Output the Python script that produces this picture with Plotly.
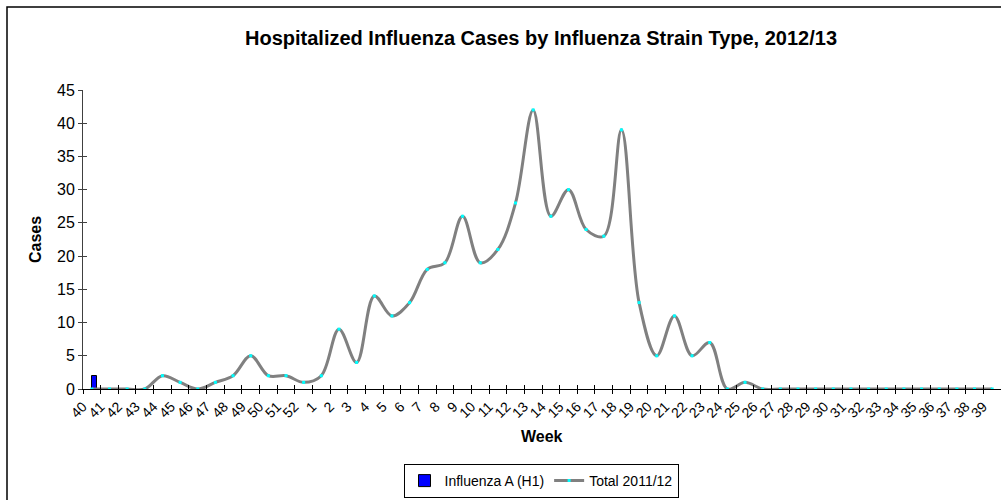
import plotly.graph_objects as go

weeks = [str(w) for w in list(range(40, 53)) + list(range(1, 40))]

total_2011_12 = [0, 0, 0, 0, 2, 1, 0, 1, 2, 5, 2, 2, 1,
                 2, 9, 4, 14, 11, 13, 18, 19, 26, 19, 21, 28, 42, 26, 30, 24, 23, 39,
                 13, 5, 11, 5, 7, 0, 1, 0,
                 0, 0, 0, 0, 0, 0, 0, 0, 0, 0, 0, 0, 0]

h1_weeks = ["40"]
h1_values = [2]

y_ticks = list(range(0, 50, 5))

FONT = "Liberation Sans, Arial, sans-serif"

W, H = 1001, 500
L, R, T, B = 83, 0, 90, 111
pw, ph = W - L - R, H - T - B


def px_x(px):
    return (px - L) / pw


def px_y(py):
    return (H - B - py) / ph


n = len(weeks)
boundaries = [i - 0.5 for i in range(n + 1)]

fig = go.Figure()
fig.add_trace(go.Bar(
    x=h1_weeks, y=h1_values, name="Influenza A (H1)",
    marker=dict(color="#0000FF", line=dict(color="#000000", width=1)),
    width=0.28, offset=0,
))
fig.add_trace(go.Scatter(
    x=weeks, y=total_2011_12, name="Total 2011/12",
    mode="lines+markers",
    line=dict(color="#808080", width=3, shape="spline", smoothing=1),
    marker=dict(color="#00FFFF", size=3, symbol="square", line=dict(width=0)),
))
# helper trace so the overlaid tick-only axes (inner half of the crossing ticks) render
fig.add_trace(go.Scatter(x=[], y=[], xaxis="x2", yaxis="y2", showlegend=False,
                         hoverinfo="skip"))

fig.update_layout(
    width=W, height=H,
    margin=dict(l=L, r=R, t=T, b=B, autoexpand=False),
    paper_bgcolor="white", plot_bgcolor="white",
    font=dict(family=FONT, size=12, color="black"),
    title=dict(text="<b>Hospitalized Influenza Cases by Influenza Strain Type, 2012/13</b>",
               x=px_x(541), xref="paper", xanchor="center",
               y=1 - 38 / H, yref="container", yanchor="middle",
               font=dict(size=20, family=FONT)),
    showlegend=True,
    legend=dict(orientation="h", x=px_x(541), xanchor="center",
                y=px_y(464), yanchor="top",
                bordercolor="black", borderwidth=1,
                font=dict(size=14, family=FONT),
                tracegroupgap=0, itemwidth=30),
    bargap=0,
    xaxis=dict(
        type="category", categoryorder="array", categoryarray=weeks,
        range=[-0.5, n - 0.5],
        tickmode="array", tickvals=weeks, ticktext=weeks,
        tickson="boundaries", ticks="outside", ticklen=4, tickcolor="black",
        showline=True, linecolor="black", linewidth=1,
        showgrid=False, zeroline=False, tickangle=-45,
        tickfont=dict(size=14, family=FONT),
        ticklabelshift=-9, ticklabelstandoff=3,
        automargin=False,
    ),
    yaxis=dict(
        range=[0, 45], tickvals=y_ticks, ticks="outside", ticklen=4, tickcolor="#404040",
        showline=True, linecolor="#404040", linewidth=1,
        showgrid=False, zeroline=False,
        tickfont=dict(size=16, family=FONT),
        automargin=False,
    ),
    xaxis2=dict(
        overlaying="x", anchor="y", range=[-0.5, n - 0.5], tickvals=boundaries,
        ticks="inside", ticklen=4, tickcolor="black", showticklabels=False,
        showline=False, showgrid=False, zeroline=False, automargin=False,
    ),
    yaxis2=dict(
        overlaying="y", anchor="x", side="left", range=[0, 45], tickvals=y_ticks,
        ticks="inside", ticklen=4, tickcolor="#404040", showticklabels=False,
        showline=False, showgrid=False, zeroline=False, automargin=False,
    ),
    annotations=[
        dict(text="<b>Week</b>", xref="paper", yref="paper",
             x=px_x(542), y=px_y(437), xanchor="center", yanchor="middle",
             showarrow=False, font=dict(size=16, family=FONT)),
        dict(text="<b>Cases</b>", xref="paper", yref="paper",
             x=px_x(35), y=px_y(240), xanchor="center", yanchor="middle",
             textangle=-90, showarrow=False, font=dict(size=16, family=FONT)),
    ],
    shapes=[dict(type="rect", xref="paper", yref="paper",
                 x0=px_x(7), x1=px_x(1080), y0=px_y(503), y1=px_y(7),
                 line=dict(color="black", width=1.5), fillcolor="rgba(0,0,0,0)",
                 layer="below")],
)

fig.write_html("out.html",
               config={"displayModeBar": False},
               post_script="document.body.style.margin='0';document.body.style.overflow='hidden';")
